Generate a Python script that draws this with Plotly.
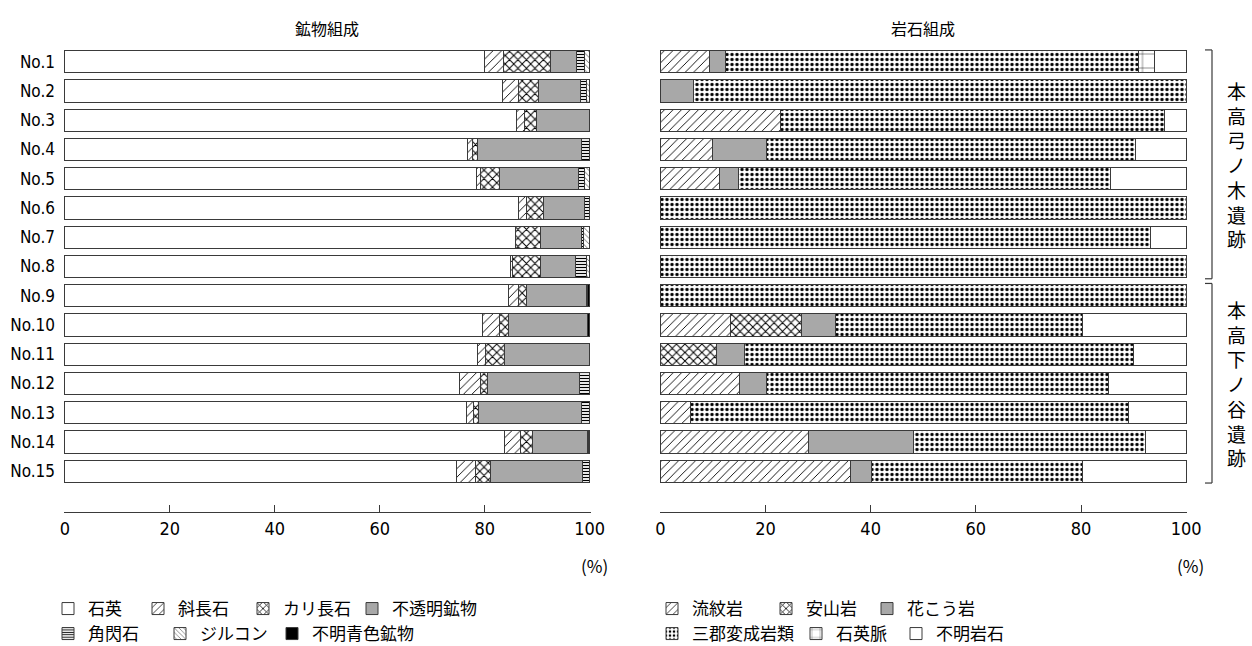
import plotly.graph_objects as go

samples = ["No.1", "No.2", "No.3", "No.4", "No.5", "No.6", "No.7", "No.8",
           "No.9", "No.10", "No.11", "No.12", "No.13", "No.14", "No.15"]

# 鉱物組成 (%)
quartz      = [79.9, 83.4, 86.0, 76.8, 78.5, 86.5, 85.8, 84.9, 84.5, 79.5, 78.7, 75.2, 76.5, 83.8, 74.7]
plagioclase = [3.7, 3.1, 1.6, 0.8, 0.7, 1.4, 0.0, 0.4, 2.0, 3.3, 1.5, 4.0, 1.4, 3.1, 3.5]
kfeldspar   = [9.0, 3.7, 2.2, 1.1, 3.6, 3.3, 4.9, 5.4, 1.5, 1.8, 3.6, 1.4, 1.0, 2.2, 2.9]
opaque      = [4.8, 8.0, 10.2, 19.7, 15.1, 7.9, 7.7, 6.5, 11.3, 15.0, 16.2, 17.4, 19.6, 10.4, 17.5]
hornblende  = [1.7, 1.1, 0.0, 1.6, 1.2, 0.9, 0.4, 2.1, 0.3, 0.0, 0.0, 2.0, 1.5, 0.0, 1.4]
zircon      = [0.9, 0.7, 0.0, 0.0, 0.9, 0.0, 1.2, 0.7, 0.0, 0.0, 0.0, 0.0, 0.0, 0.2, 0.0]
blue_min    = [0.0, 0.0, 0.0, 0.0, 0.0, 0.0, 0.0, 0.0, 0.4, 0.4, 0.0, 0.0, 0.0, 0.3, 0.0]

# 岩石組成 (%)
rhyolite    = [9.4, 0.0, 22.9, 10.0, 11.2, 0.0, 0.0, 0.0, 0.0, 13.4, 0.0, 15.1, 5.7, 28.1, 36.1]
andesite    = [0.0, 0.0, 0.0, 0.0, 0.0, 0.0, 0.0, 0.0, 0.0, 13.4, 10.7, 0.0, 0.0, 0.0, 0.0]
granite     = [3.0, 6.4, 0.0, 10.1, 3.6, 0.0, 0.0, 0.0, 0.0, 6.6, 5.3, 5.0, 0.0, 20.0, 4.0]
sangun      = [78.6, 93.6, 72.9, 70.2, 70.8, 100.0, 93.2, 100.0, 100.0, 46.9, 73.9, 65.2, 83.4, 44.1, 40.2]
quartz_vein = [3.0, 0.0, 0.0, 0.0, 0.0, 0.0, 0.0, 0.0, 0.0, 0.0, 0.0, 0.0, 0.0, 0.0, 0.0]
unknown     = [6.0, 0.0, 4.2, 9.7, 14.4, 0.0, 6.8, 0.0, 0.0, 19.7, 10.1, 14.7, 10.9, 7.8, 19.7]

site_names = ["本高弓ノ木遺跡", "本高下ノ谷遺跡"]
site_rows = [(0, 7), (8, 14)]
x_ticks = [0, 20, 40, 60, 80, 100]

CJK = "Noto Sans CJK JP"
NARROW = "Liberation Sans Narrow, DejaVu Sans Condensed, Noto Sans CJK JP"
LINE = "#3a3a3a"
GRAY = "#a8a8a8"

ML, MR, MT, MB = 64, 65, 47, 134
W, H = 1252, 646
pw = W - ML - MR
ph = H - MT - MB


def px_x(p):
    return (p - ML) / pw


def px_y(p):
    return (H - MB - p) / ph


fig = go.Figure()
legend_layout = {}
leg_count = [0]


def add(name, vals, xa, ya, text_x, row_y, fill="white", shape="", size=8, solid=0.2, fg="black"):
    leg_count[0] += 1
    key = "legend" if leg_count[0] == 1 else f"legend{leg_count[0]}"
    legend_layout[key] = dict(
        x=px_x(text_x - 40), y=px_y(row_y), xanchor="left", yanchor="middle",
        orientation="h", font=dict(family=CJK, size=17, color="black"),
        bgcolor="rgba(0,0,0,0)", itemclick=False, itemdoubleclick=False,
    )
    pattern = dict(shape=shape, size=size, solidity=solid, fgcolor=fg, bgcolor=fill,
                   fillmode="replace")
    fig.add_trace(go.Bar(
        y=samples, x=vals, name=name, orientation="h", xaxis=xa, yaxis=ya,
        legend=key,
        marker=dict(color=fill, line=dict(color=LINE, width=1), pattern=pattern),
        hoverinfo="x+y+name",
    ))


R1, R2 = 609, 634
# mineral composition
add("石英", quartz, "x", "y", 88, R1)
add("斜長石", plagioclase, "x", "y", 178, R1, shape="/", size=6, solid=0.15)
add("カリ長石", kfeldspar, "x", "y", 283, R1, shape="x", size=6, solid=0.3)
add("不透明鉱物", opaque, "x", "y", 392, R1, fill=GRAY)
add("角閃石", hornblende, "x", "y", 88, R2, shape="-", size=3, solid=0.4)
add("ジルコン", zircon, "x", "y", 200, R2, shape="\\", size=4, solid=0.2, fg="#555")
add("不明青色鉱物", blue_min, "x", "y", 312, R2, fill="black")

# rock composition
add("流紋岩", rhyolite, "x2", "y2", 692, R1, shape="/", size=6, solid=0.15)
add("安山岩", andesite, "x2", "y2", 806, R1, shape="x", size=6, solid=0.3)
add("花こう岩", granite, "x2", "y2", 907, R1, fill=GRAY)
add("三郡変成岩類", sangun, "x2", "y2", 692, R2, shape=".", size=5, solid=0.34)
add("石英脈", quartz_vein, "x2", "y2", 836, R2, shape="+", size=14, solid=0.06)
add("不明岩石", unknown, "x2", "y2", 936, R2)

xaxis_common = dict(
    range=[-0.15, 100.15], tickvals=x_ticks, ticks="inside", ticklen=7, tickcolor=LINE,
    showline=True, linecolor=LINE, linewidth=1.2, showgrid=False, zeroline=False,
    tickfont=dict(family=NARROW, size=18, color="black"), fixedrange=True,
)
yaxis_common = dict(
    type="category", range=[15.39, -0.5], showgrid=False, zeroline=False, showline=False,
    ticks="", fixedrange=True,
)

fig.update_layout(
    width=W, height=H, barmode="stack", bargap=0.24,
    margin=dict(l=ML, r=MR, t=MT, b=MB, autoexpand=False),
    plot_bgcolor="white", paper_bgcolor="white",
    font=dict(family=CJK, color="black"),
    xaxis=dict(domain=[0, px_x(590.5)], anchor="y", **xaxis_common),
    xaxis2=dict(domain=[px_x(659.5), 1], anchor="y2", **xaxis_common),
    yaxis=dict(anchor="x", ticklabelstandoff=8,
               tickfont=dict(family=NARROW, size=17, color="black"), **yaxis_common),
    yaxis2=dict(anchor="x2", showticklabels=False, **yaxis_common),
    showlegend=True,
    **legend_layout,
)

# subplot titles
fig.add_annotation(text="鉱物組成", xref="x domain", yref="paper", x=0.5, y=px_y(28),
                   xanchor="center", yanchor="middle",
                   showarrow=False, font=dict(family=CJK, size=16))
fig.add_annotation(text="岩石組成", xref="x2 domain", yref="paper", x=0.5, y=px_y(28),
                   xanchor="center", yanchor="middle",
                   showarrow=False, font=dict(family=CJK, size=16))
# unit labels
for xr in ["x domain", "x2 domain"]:
    fig.add_annotation(text="(%)", xref=xr, yref="paper", x=1.0, y=px_y(565),
                       xanchor="left", yanchor="middle", xshift=-12, showarrow=False,
                       font=dict(family=CJK, size=17))

# site brackets
bx = px_x(1212)
tx = px_x(1205)
for (r0, r1), name in zip(site_rows, site_names):
    y0 = r0 - 0.4 if r0 == 0 else r0 - 0.42
    y1 = r1 + 0.42 if r1 != 14 else r1 + 0.4
    for seg in [((tx, y0), (bx, y0)), ((bx, y0), (bx, y1)), ((bx, y1), (tx, y1))]:
        fig.add_shape(type="line", xref="paper", yref="y2",
                      x0=seg[0][0], y0=seg[0][1], x1=seg[1][0], y1=seg[1][1],
                      line=dict(color=LINE, width=1.2))
    fig.add_annotation(text="<br>".join(list(name)), xref="paper", yref="y2",
                       x=px_x(1236), y=(r0 + r1) / 2, showarrow=False,
                       xanchor="center", yanchor="middle",
                       font=dict(family=CJK, size=19), align="center")

fig.write_html("out.html")
